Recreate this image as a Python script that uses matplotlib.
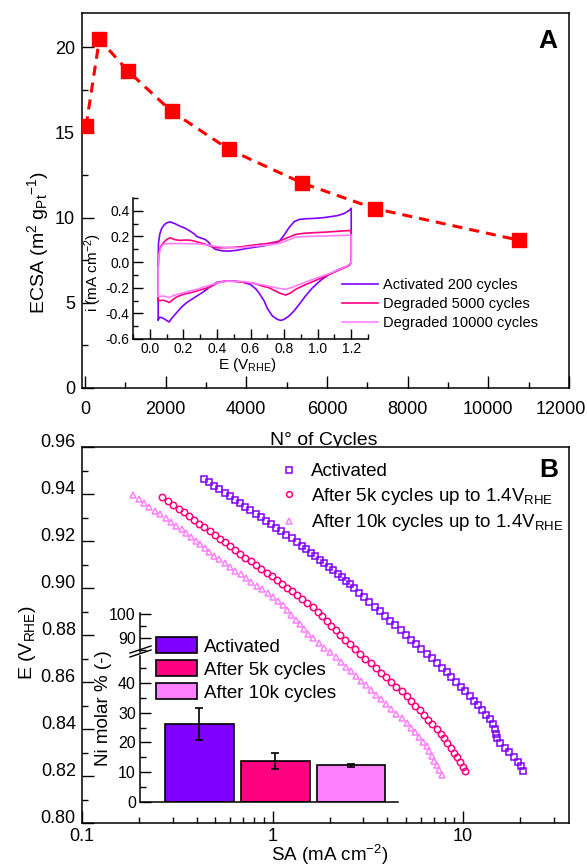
import matplotlib
matplotlib.use('Agg')
import matplotlib.pyplot as plt
from matplotlib.ticker import MultipleLocator, FormatStrFormatter, LogLocator, NullFormatter, FuncFormatter, NullLocator
from matplotlib.patches import Patch
from matplotlib.lines import Line2D
from matplotlib.transforms import ScaledTranslation

plt.rcParams['font.family'] = ['Liberation Sans', 'DejaVu Sans']
plt.rcParams['mathtext.default'] = 'regular'

# ---------------- panel A : ECSA vs cycles
cycles = [30, 360, 1080, 2150, 3570, 5380, 7180, 10760]
ecsa = [15.35, 20.46, 18.57, 16.23, 14.0, 12.03, 10.53, 8.67]

# CV inset (closed loops: anodic then cathodic)
act_E = [0.05, 0.05, 0.052, 0.06, 0.07, 0.085, 0.10, 0.12, 0.15, 0.18, 0.21, 0.23, 0.26, 0.28, 0.31, 0.33, 0.35, 0.37, 0.39, 0.43,
         0.47, 0.52, 0.57, 0.62, 0.67, 0.72, 0.77, 0.80, 0.83, 0.86, 0.89, 0.93, 0.98, 1.03, 1.08, 1.12, 1.16, 1.19, 1.20,
         1.20, 1.19, 1.17, 1.12, 1.07, 1.02, 0.97, 0.93, 0.89, 0.86, 0.83, 0.80, 0.78, 0.76, 0.73, 0.70, 0.68, 0.65, 0.63, 0.60,
         0.55, 0.50, 0.45, 0.40, 0.37, 0.34, 0.31, 0.28, 0.25, 0.22, 0.19, 0.16, 0.13, 0.115, 0.10, 0.08, 0.06, 0.05]
act_i = [-0.45, 0.0, 0.15, 0.22, 0.26, 0.29, 0.305, 0.314, 0.30, 0.28, 0.265, 0.25, 0.225, 0.20, 0.185, 0.177, 0.155, 0.12, 0.10, 0.088,
         0.086, 0.092, 0.105, 0.115, 0.125, 0.138, 0.16, 0.21, 0.27, 0.315, 0.333, 0.338, 0.341, 0.346, 0.355, 0.363, 0.38, 0.405, 0.42,
         0.0, -0.02, -0.035, -0.06, -0.095, -0.14, -0.2, -0.26, -0.33, -0.38, -0.42, -0.447, -0.455, -0.447, -0.42, -0.36, -0.30, -0.24, -0.207, -0.175,
         -0.155, -0.148, -0.148, -0.158, -0.18, -0.212, -0.24, -0.265, -0.29, -0.316, -0.35, -0.394, -0.44, -0.467, -0.455, -0.438, -0.43, -0.45]
d5k_E = [0.05, 0.05, 0.055, 0.065, 0.08, 0.10, 0.12, 0.15, 0.18, 0.21, 0.24, 0.27, 0.30, 0.33, 0.36, 0.40, 0.45, 0.50, 0.55, 0.60,
         0.65, 0.70, 0.77, 0.82, 0.87, 0.92, 0.97, 1.05, 1.12, 1.20,
         1.20, 1.19, 1.15, 1.07, 1.02, 0.97, 0.92, 0.87, 0.84, 0.81, 0.78, 0.75, 0.71, 0.67, 0.62, 0.57, 0.52, 0.46, 0.41, 0.36,
         0.32, 0.28, 0.24, 0.20, 0.16, 0.14, 0.116, 0.10, 0.08, 0.06, 0.05]
d5k_i = [-0.30, -0.05, 0.07, 0.12, 0.15, 0.175, 0.19, 0.175, 0.169, 0.172, 0.171, 0.162, 0.151, 0.14, 0.125, 0.112, 0.112, 0.115, 0.12, 0.13,
         0.138, 0.145, 0.163, 0.19, 0.216, 0.225, 0.229, 0.234, 0.24, 0.247,
         0.0, -0.025, -0.05, -0.096, -0.125, -0.153, -0.18, -0.212, -0.24, -0.257, -0.245, -0.226, -0.20, -0.187, -0.165, -0.16, -0.152, -0.148, -0.16, -0.194,
         -0.21, -0.226, -0.24, -0.251, -0.272, -0.29, -0.316, -0.305, -0.298, -0.30, -0.30]
d10k_E = [0.05, 0.05, 0.055, 0.065, 0.08, 0.11, 0.14, 0.20, 0.28, 0.33, 0.38, 0.46, 0.54, 0.63, 0.70, 0.77, 0.82, 0.87, 0.93, 1.00, 1.10, 1.20,
          1.20, 1.19, 1.15, 1.07, 0.97, 0.92, 0.87, 0.84, 0.81, 0.77, 0.73, 0.68, 0.63, 0.57, 0.46, 0.41, 0.36, 0.28, 0.22, 0.18,
          0.14, 0.116, 0.10, 0.08, 0.06, 0.05]
d10k_i = [-0.265, -0.05, 0.06, 0.11, 0.138, 0.144, 0.145, 0.144, 0.143, 0.135, 0.125, 0.114, 0.112, 0.125, 0.133, 0.145, 0.17, 0.195, 0.20, 0.202, 0.206, 0.21,
          0.0, -0.02, -0.045, -0.09, -0.135, -0.16, -0.187, -0.2, -0.212, -0.205, -0.194, -0.18, -0.168, -0.153, -0.148, -0.16, -0.179, -0.212, -0.232, -0.246,
          -0.262, -0.277, -0.27, -0.265, -0.268, -0.265]

# ---------------- panel B : polarisation curves
e_act = [0.9467, 0.9452, 0.9437, 0.9422, 0.9407, 0.9392, 0.9377, 0.9362, 0.9347, 0.9332, 0.9317, 0.9302, 0.9287, 0.9272, 0.9257,
         0.9242, 0.9227, 0.9212, 0.9197, 0.9182, 0.9167, 0.9152, 0.9137, 0.9122, 0.9107, 0.9092, 0.9077, 0.9062, 0.9047, 0.9032,
         0.9017, 0.9002, 0.8982, 0.8962, 0.8942, 0.8922, 0.8902, 0.8882, 0.8862, 0.8842, 0.8822, 0.8802, 0.8782, 0.8762, 0.8742,
         0.8722, 0.8702, 0.8682, 0.8662, 0.8642, 0.8622, 0.8602, 0.8582, 0.8562, 0.8542, 0.8522, 0.8502, 0.8482, 0.8462, 0.8442,
         0.8422, 0.8402, 0.8382, 0.8362, 0.8342, 0.8322, 0.8302, 0.8282, 0.8262, 0.8242, 0.8222]
sa_act = [0.4365, 0.4646, 0.4944, 0.5262, 0.5601, 0.5962, 0.6346, 0.6754, 0.7188, 0.7651, 0.8143, 0.8670, 0.9228, 0.9822, 1.045,
          1.113, 1.184, 1.260, 1.341, 1.424, 1.503, 1.588, 1.676, 1.770, 1.869, 1.974, 2.084, 2.201, 2.321, 2.433,
          2.551, 2.673, 2.846, 3.030, 3.226, 3.434, 3.658, 3.895, 4.148, 4.418, 4.705, 5.010, 5.334, 5.678, 6.043,
          6.435, 6.848, 7.293, 7.743, 8.194, 8.672, 9.180, 9.714, 10.28, 10.88, 11.48, 12.04, 12.62, 13.23, 13.87,
          14.35, 14.76, 14.88, 15.00, 15.67, 16.57, 17.53, 18.55, 19.43, 20.06, 20.72]
e_5k = [0.9387, 0.9371, 0.9355, 0.9339, 0.9323, 0.9307, 0.9291, 0.9275, 0.9259, 0.9243, 0.9227, 0.9211, 0.9195, 0.9179, 0.9163,
        0.9147, 0.9131, 0.9115, 0.9099, 0.9083, 0.9067, 0.9051, 0.9035, 0.9019, 0.9003, 0.8987, 0.8971, 0.8955, 0.8939,
        0.8921, 0.8901, 0.8881, 0.8861, 0.8841, 0.8821, 0.8801, 0.8781, 0.8761, 0.8741, 0.8721, 0.8701, 0.8681, 0.8661, 0.8641,
        0.8621, 0.8601, 0.8581, 0.8561, 0.8541, 0.8521, 0.8501, 0.8481, 0.8461, 0.8441, 0.8421, 0.8401, 0.8381, 0.8361, 0.8341,
        0.8321, 0.8301, 0.8281, 0.8261, 0.8241, 0.8221]
sa_5k = [0.2630, 0.2813, 0.3007, 0.3215, 0.3433, 0.3651, 0.3885, 0.4133, 0.4394, 0.4677, 0.4977, 0.5295, 0.5632, 0.5991, 0.6374,
         0.6782, 0.7214, 0.7688, 0.8197, 0.8742, 0.9320, 0.9936, 1.060, 1.127, 1.198, 1.272, 1.351, 1.435, 1.524,
         1.631, 1.724, 1.822, 1.925, 2.033, 2.148, 2.269, 2.407, 2.560, 2.721, 2.893, 3.075, 3.269, 3.478, 3.704,
         3.945, 4.201, 4.474, 4.764, 5.071, 5.340, 5.621, 5.916, 6.228, 6.556, 6.901, 7.263, 7.628, 7.945, 8.275,
         8.617, 8.974, 9.327, 9.627, 9.938, 10.26]
e_10k = [0.9395, 0.9379, 0.9363, 0.9347, 0.9331, 0.9315, 0.9299, 0.9283, 0.9267, 0.9251, 0.9235, 0.9219, 0.9203, 0.9187, 0.9171,
         0.9155, 0.9139, 0.9123, 0.9107, 0.9091, 0.9075, 0.9059, 0.9043, 0.9027, 0.9011, 0.8995, 0.8979, 0.8963, 0.8947,
         0.8927, 0.8907, 0.8887, 0.8867, 0.8847, 0.8827, 0.8807, 0.8787, 0.8767, 0.8747, 0.8727, 0.8707, 0.8687, 0.8667, 0.8647,
         0.8627, 0.8607, 0.8587, 0.8567, 0.8547, 0.8527, 0.8507, 0.8487, 0.8467, 0.8447, 0.8427, 0.8407, 0.8387, 0.8367, 0.8347,
         0.8327, 0.8307, 0.8287, 0.8267, 0.8247, 0.8227, 0.8207]
sa_10k = [0.1858, 0.1983, 0.2117, 0.2259, 0.2411, 0.2573, 0.2747, 0.2932, 0.3129, 0.3340, 0.3535, 0.3735, 0.3947, 0.4170, 0.4405,
          0.4656, 0.4926, 0.5256, 0.5605, 0.5984, 0.6385, 0.6813, 0.7270, 0.7754, 0.8274, 0.8829, 0.9419, 1.005, 1.072,
          1.137, 1.196, 1.258, 1.324, 1.393, 1.466, 1.543, 1.639, 1.752, 1.874, 2.003, 2.143, 2.292, 2.434, 2.582,
          2.739, 2.906, 3.084, 3.273, 3.478, 3.704, 3.945, 4.201, 4.474, 4.764, 5.071, 5.323, 5.586, 5.863, 6.154,
          6.453, 6.649, 6.852, 7.061, 7.276, 7.499, 7.727]

# Ni content inset
ni_groups = ['Activated', 'After 5k cycles', 'After 10k cycles']
ni_mean = [26.2, 13.7, 12.3]
ni_err = [5.4, 2.6, 0.4]

purple = '#8000FF'
pink = '#FF0080'
lpink = '#FF80FF'

W, H = 587, 866
fig = plt.figure(figsize=(W / 100, H / 100), dpi=100)

def fr(x0, y0, x1, y1):
    # pixel box -> figure fraction [l, b, w, h]
    return [x0 / W, 1 - y1 / H, (x1 - x0) / W, (y1 - y0) / H]

def style_ticks(ax, size, major=8.5, minor=4.3):
    ax.tick_params(which='both', direction='in', top=False, right=False, width=1.0, labelsize=size)
    ax.tick_params(which='major', length=major)
    ax.tick_params(which='minor', length=minor)
    for s in ax.spines.values():
        s.set_linewidth(1.1)

# ---------- panel A
axA = fig.add_axes(fr(82, 13, 569, 388))
axA.plot(cycles, ecsa, color='#FF0000', ls=(0, (3.3, 2.3)), lw=2.2, marker='s', ms=9.5, zorder=3)
axA.set_xlim(-70, 12000)
axA.set_ylim(0, 22)
axA.xaxis.set_major_locator(MultipleLocator(2000))
axA.xaxis.set_minor_locator(MultipleLocator(1000))
axA.yaxis.set_major_locator(MultipleLocator(5))
axA.yaxis.set_minor_locator(MultipleLocator(2.5))
style_ticks(axA, 13)
axA.tick_params(axis='x', pad=9)
axA.tick_params(axis='y', pad=5)
axA.set_xlabel('N° of Cycles', fontsize=14)
axA.xaxis.set_label_coords(0.497, -0.117)
axA.set_ylabel('ECSA (m$^{2}$ g$_{Pt}$$^{-1}$)', fontsize=14)
axA.yaxis.set_label_coords(-0.063, 0.387)
axA.text(0.957, 0.925, 'A', transform=axA.transAxes, fontsize=19, fontweight='bold', ha='center', va='center')

# CV inset
axI = fig.add_axes(fr(133, 198, 368, 339))
axI.patch.set_visible(False)
axI.plot(act_E, act_i, color=purple, lw=1.2, label='Activated 200 cycles')
axI.plot(d5k_E, d5k_i, color=pink, lw=1.2, label='Degraded 5000 cycles')
axI.plot(d10k_E, d10k_i, color=lpink, lw=1.2, label='Degraded 10000 cycles')
axI.set_xlim(-0.1, 1.3)
axI.set_ylim(-0.6, 0.5)
axI.xaxis.set_major_locator(MultipleLocator(0.2))
axI.xaxis.set_minor_locator(MultipleLocator(0.1))
axI.yaxis.set_major_locator(MultipleLocator(0.2))
axI.yaxis.set_minor_locator(MultipleLocator(0.1))
axI.xaxis.set_major_formatter(FormatStrFormatter('%.1f'))
axI.yaxis.set_major_formatter(FormatStrFormatter('%.1f'))
axI.spines['top'].set_visible(False)
axI.spines['right'].set_visible(False)
style_ticks(axI, 10, major=7, minor=3.5)
axI.tick_params(axis='both', pad=2.5)
axI.set_ylabel('i (mA cm$^{-2}$)', fontsize=11)
axI.yaxis.set_label_coords(-0.125, 0.47)
axI.set_xlabel('E (V$_{RHE}$)', fontsize=11)
axI.xaxis.set_label_coords(0.485, -0.12)
axI.legend(loc='center left', bbox_to_anchor=(341.7 / W, 1 - 304 / H), bbox_transform=fig.transFigure,
           frameon=False, fontsize=10.5, handlelength=2.5, handletextpad=0.3, labelspacing=0.35,
           borderpad=0, borderaxespad=0)

# ---------- panel B
axB = fig.add_axes(fr(82, 447.3, 569, 823.3))
h1, = axB.plot(sa_act, e_act, ls='none', marker='s', ms=4.2, mfc='none', mec=purple, mew=1.1,
               label='Activated')
h2, = axB.plot(sa_5k, e_5k, ls='none', marker='o', ms=4.6, mfc='none', mec=pink, mew=1.1,
               label='After 5k cycles up to 1.4V$_{RHE}$')
h3, = axB.plot(sa_10k, e_10k, ls='none', marker='^', ms=5.0, mfc='none', mec=lpink, mew=1.1,
               label='After 10k cycles up to 1.4V$_{RHE}$')
axB.set_xscale('log')
axB.set_xlim(0.1, 36)
axB.set_ylim(0.80, 0.96)
axB.xaxis.set_major_locator(LogLocator(base=10, numticks=10))
axB.xaxis.set_major_formatter(FuncFormatter(lambda v, p: '%g' % v))
axB.xaxis.set_minor_locator(LogLocator(base=10, subs=[2, 3, 4, 5, 6, 7, 8, 9], numticks=10))
axB.xaxis.set_minor_formatter(NullFormatter())
axB.yaxis.set_major_locator(MultipleLocator(0.02))
axB.yaxis.set_minor_locator(MultipleLocator(0.01))
axB.yaxis.set_major_formatter(FormatStrFormatter('%.2f'))
style_ticks(axB, 13)
axB.tick_params(axis='x', pad=3.5)
axB.tick_params(axis='y', pad=4.5)
for lbl in axB.get_yticklabels():
    lbl.set_va('baseline')
axB.set_xlabel('SA (mA cm$^{-2}$)', fontsize=13.5)
axB.xaxis.set_label_coords(0.509, -0.053)
axB.set_ylabel('E (V$_{RHE}$)', fontsize=14)
axB.yaxis.set_label_coords(-0.09, 0.48)
axB.text(0.959, 0.94, 'B', transform=axB.transAxes, fontsize=19, fontweight='bold', ha='center', va='center')
axB.legend(handles=[h1, h2, h3], loc='upper left', bbox_to_anchor=(281 / W, 1 - 463 / H),
           bbox_transform=fig.transFigure, frameon=False, fontsize=13.5, handlelength=0.8,
           handletextpad=0.8, labelspacing=0.3, borderpad=0, borderaxespad=0, markerscale=0.9)

# ---------- Ni inset (broken y axis)
axN = fig.add_axes(fr(140, 656, 398, 802))
axN.patch.set_visible(False)
xpos = list(range(len(ni_groups)))
axN.bar(xpos, ni_mean, width=0.91, color=[purple, pink, lpink], edgecolor='black', lw=1.2,
        yerr=ni_err, capsize=3, error_kw=dict(elinewidth=1.2, capthick=1.2, ecolor='black'))
axN.set_xlim(-0.785, 2.62)
axN.set_ylim(0, 49)
axN.xaxis.set_major_locator(NullLocator())
axN.yaxis.set_major_locator(MultipleLocator(10))
axN.yaxis.set_minor_locator(MultipleLocator(5))
axN.spines['top'].set_visible(False)
axN.spines['right'].set_visible(False)
style_ticks(axN, 11.5, major=8, minor=4.5)
axN.tick_params(axis='y', pad=3)
axN.set_ylabel('Ni molar % (-)', fontsize=13.5)
axN.yaxis.set_label_coords(-0.109, 0.644)
axN.legend(handles=[Patch(facecolor=c, edgecolor='black', lw=1.2, label=g)
                    for c, g in zip([purple, pink, lpink], ni_groups)],
           loc='upper left', bbox_to_anchor=(155.7 / W, 1 - 637 / H), bbox_transform=fig.transFigure,
           frameon=False, fontsize=13.5, handlelength=2.2, handleheight=0.95, handletextpad=0.35,
           labelspacing=0.24, borderpad=0, borderaxespad=0)

axU = fig.add_axes(fr(140, 613, 398, 652))
axU.patch.set_visible(False)
axU.set_xlim(-0.785, 2.62)
axU.set_ylim(84, 100.3)
axU.xaxis.set_major_locator(NullLocator())
axU.yaxis.set_major_locator(MultipleLocator(10))
axU.yaxis.set_minor_locator(MultipleLocator(5))
for s in ['top', 'right', 'bottom']:
    axU.spines[s].set_visible(False)
style_ticks(axU, 11.5, major=8, minor=4.5)
axU.tick_params(axis='y', pad=3)

# break marks
for dy in (0, 4):
    fig.add_artist(Line2D([130 / W, 151 / W], [1 - (657 - dy) / H, 1 - (650 - dy) / H],
                          transform=fig.transFigure, color='black', lw=1.0))

# last x label of panel A is pulled inside the figure, as in the original
fig.canvas.draw()
for lbl in axA.get_xticklabels():
    if lbl.get_text() == '12000':
        lbl.set_transform(lbl.get_transform() + ScaledTranslation(-8.5 / 100, 0, fig.dpi_scale_trans))

fig.savefig('out.png', dpi=100)
